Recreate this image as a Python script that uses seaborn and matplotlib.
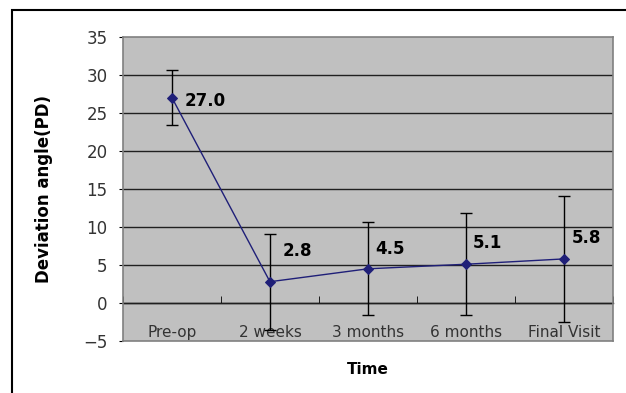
import numpy as np
import pandas as pd
import matplotlib
matplotlib.use("Agg")
import matplotlib.pyplot as plt
import seaborn as sns
from matplotlib.patches import Rectangle

# data
times = ["Pre-op", "2 weeks", "3 months", "6 months", "Final Visit"]
means = [27.0, 2.8, 4.5, 5.1, 5.8]
sds = [3.6, 6.3, 6.1, 6.7, 8.3]
labels = ["27.0", "2.8", "4.5", "5.1", "5.8"]
# label offsets (points) as placed in the original
label_dx = [9, 9, 5, 5, 6]
label_dy = [-2, 22, 14, 15, 15]

df = pd.DataFrame({"Time": times, "mean": means, "sd": sds})
df["x"] = np.arange(len(df))

sns.set_style("white")
plt.rcParams["font.family"] = ["DejaVu Sans"]

fig = plt.figure(figsize=(6.26, 3.93), dpi=100)
ax = fig.add_axes([0.1965, 0.1323, 0.7825, 0.7736])

# outer chart frame (only top and left visible)
fig.patches.append(Rectangle((12 / 626, -0.1), 1.2, 1 - 9.5 / 393 + 0.1,
                             transform=fig.transFigure, fill=False,
                             edgecolor="black", linewidth=1.5))

ax.set_facecolor("#C0C0C0")
for s in ax.spines.values():
    s.set_color("#808080")
    s.set_linewidth(1.2)

ax.set_ylim(-5, 35)
ax.set_xlim(-0.5, len(df) - 0.5)
ax.set_yticks(np.arange(-5, 36, 5))
for v in np.arange(0, 35, 5):
    ax.axhline(v, color="#202020", linewidth=1, zorder=1)

ax.errorbar(df["x"], df["mean"], yerr=df["sd"], fmt="none", ecolor="black",
            elinewidth=1, capsize=4, capthick=1, zorder=2)
sns.lineplot(data=df, x="x", y="mean", ax=ax, color="#1F1F78", linewidth=1,
             marker="D", markersize=5, markeredgecolor="#1F1F78", zorder=3)

for i, row in df.iterrows():
    ax.annotate(labels[i], (row["x"], row["mean"]), xytext=(label_dx[i], label_dy[i]),
                textcoords="offset points", fontsize=12, fontweight="bold",
                ha="left", va="center", color="black", zorder=4)

# category axis crossing at zero
ax.set_xticks([])
sec = ax.secondary_xaxis(5 / 40)
sec.spines["bottom"].set_color("black")
sec.spines["bottom"].set_linewidth(1)
sec.set_xticks(df["x"].tolist())
sec.set_xticklabels(times, fontsize=11, color="#333333")
sec.set_xticks(np.arange(-0.5, len(df), 1), minor=True)
sec.tick_params(axis="x", which="major", length=0, pad=16)
sec.tick_params(axis="x", which="minor", direction="in", length=5, color="black")

ax.tick_params(axis="y", which="major", left=True, direction="out", length=3,
               color="black", labelsize=12, labelcolor="#333333", pad=8)
ax.set_ylabel("Deviation angle(PD)", fontsize=12, fontweight="bold",
              color="black", labelpad=22)
ax.set_xlabel("")
fig.text(368 / 626, 1 - 370 / 393, "Time", fontsize=11, fontweight="bold",
         color="black", ha="center", va="center")

fig.savefig("out.png", dpi=100)
